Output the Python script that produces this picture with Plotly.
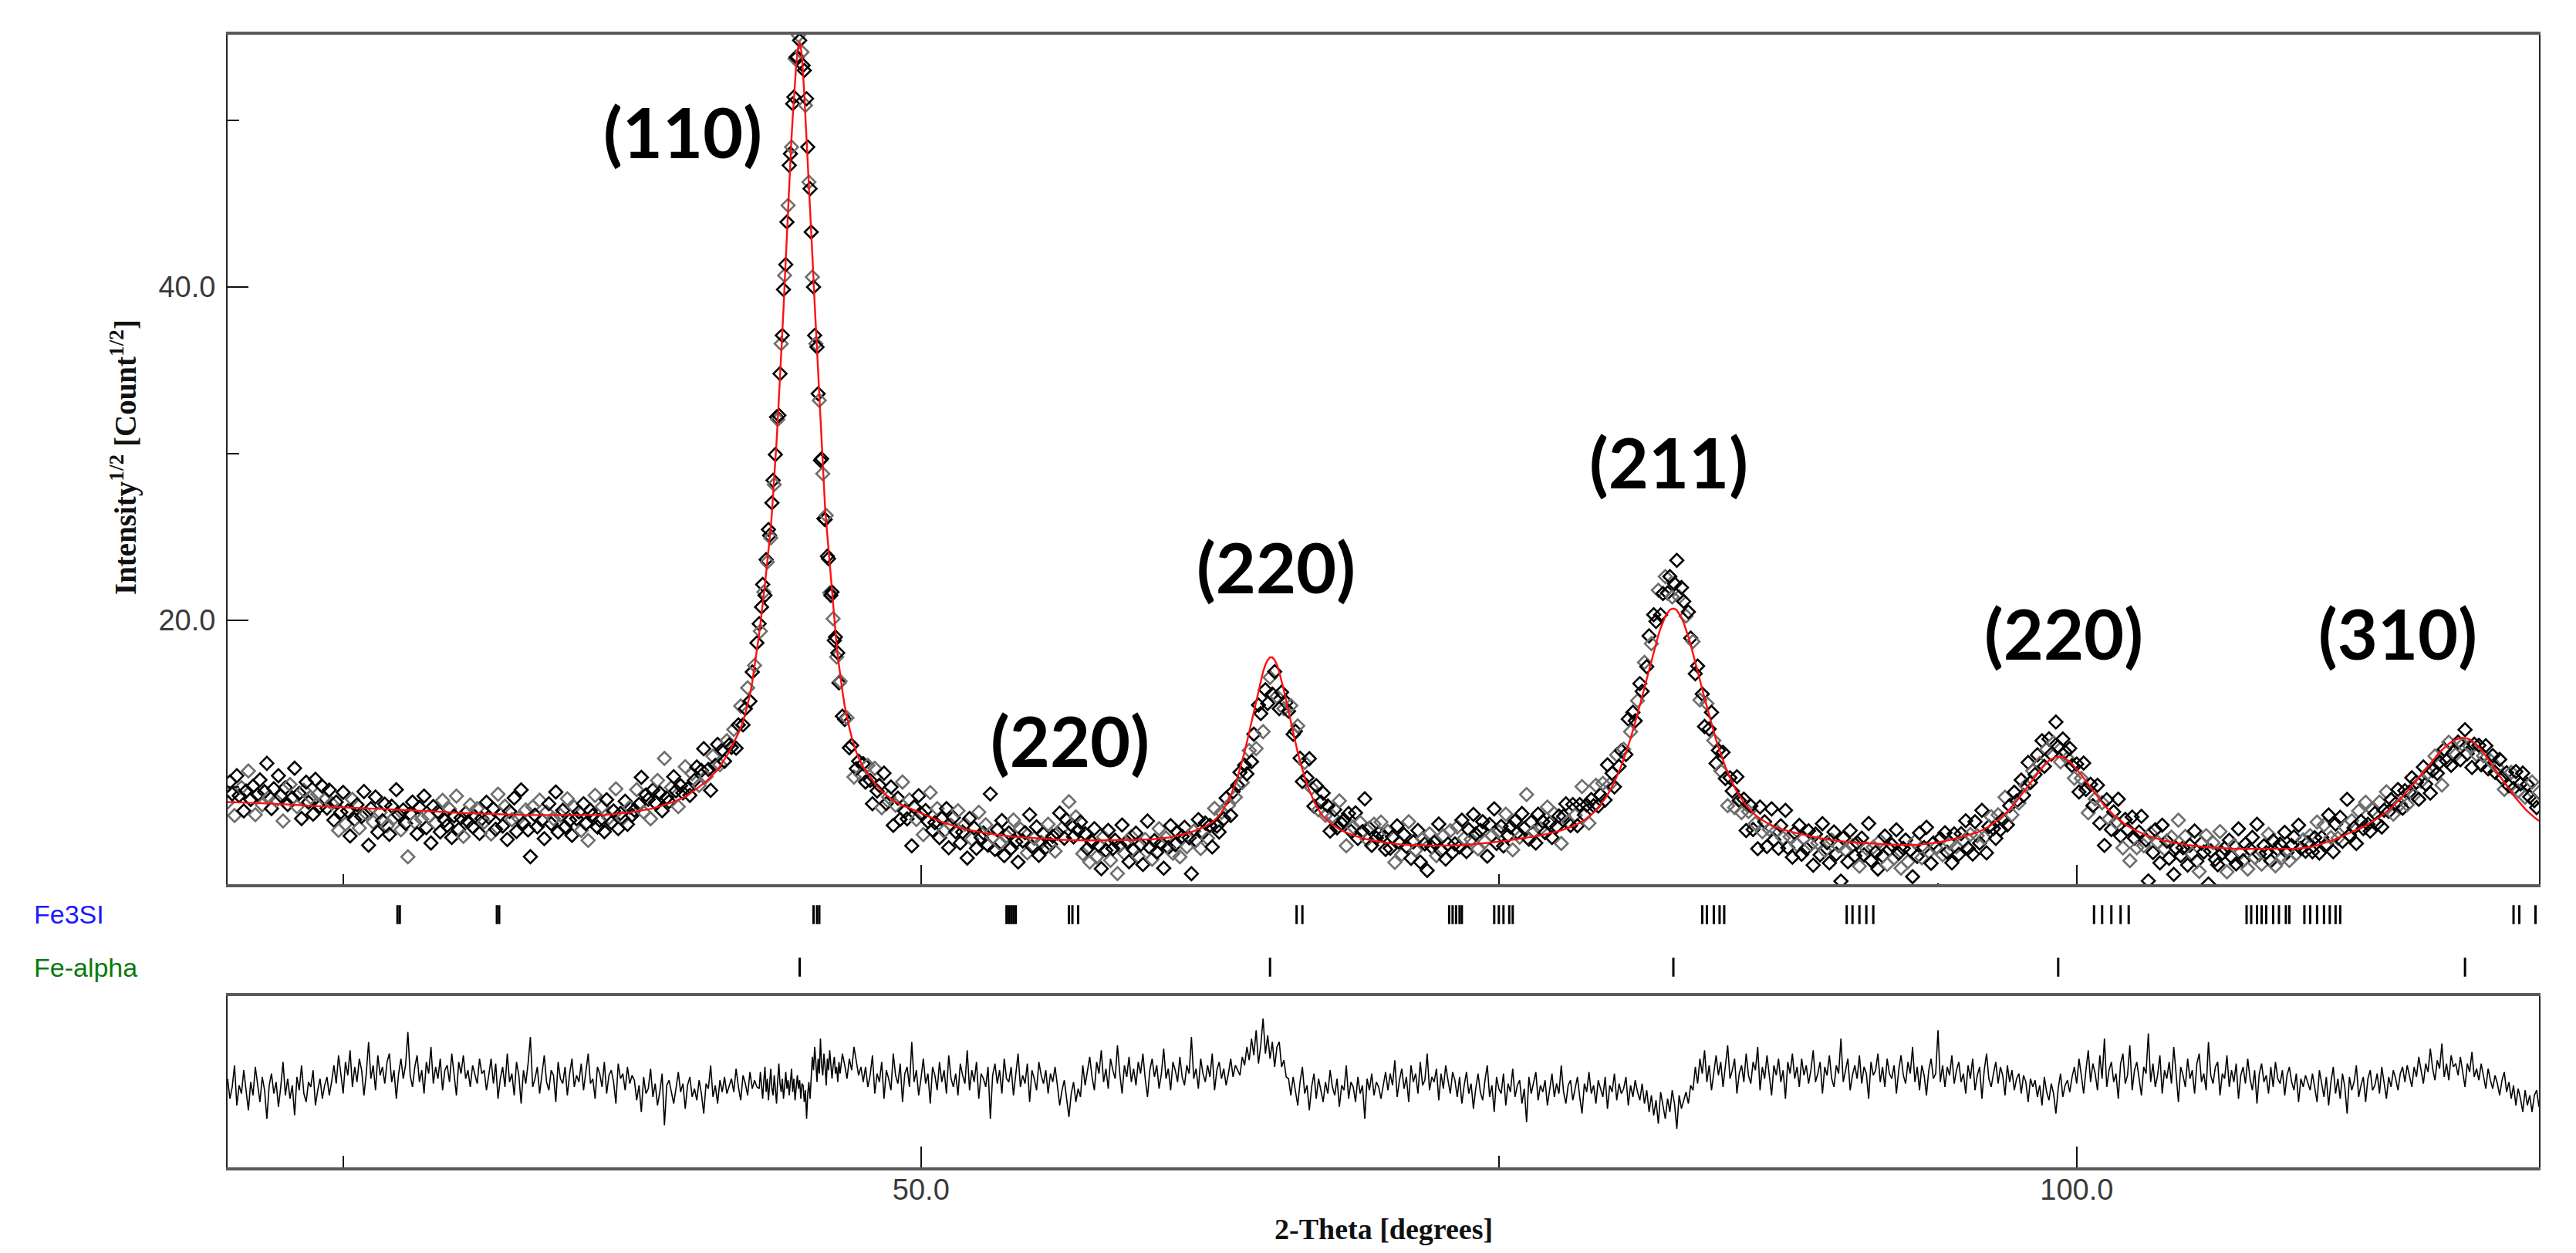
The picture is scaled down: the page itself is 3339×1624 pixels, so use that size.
import numpy as np
import plotly.graph_objects as go

# ---------------- DATA ----------------
# 2-theta sampling grid in degrees: 0.1 deg steps, 0.05 deg steps across the (110) peak
two_theta = np.concatenate([
    np.arange(200, 430) / 10.0,    # 20.0 ... 42.9
    np.arange(860, 930) / 20.0,    # 43.00 ... 46.45
    np.arange(465, 1201) / 10.0,   # 46.5 ... 120.0
])

# calculated profile (red line), Intensity^1/2
calc_low = [
    9.10, 9.10, 9.09, 9.09, 9.08, 9.08, 9.07, 9.07, 9.06, 9.06,
    9.05, 9.05, 9.04, 9.04, 9.03, 9.03, 9.02, 9.02, 9.01, 9.01,
    9.00, 8.99, 8.98, 8.98, 8.97, 8.96, 8.95, 8.95, 8.94, 8.93,
    8.92, 8.92, 8.91, 8.90, 8.89, 8.89, 8.88, 8.87, 8.86, 8.86,
    8.85, 8.84, 8.84, 8.83, 8.82, 8.82, 8.81, 8.80, 8.80, 8.79,
    8.78, 8.78, 8.77, 8.76, 8.76, 8.75, 8.74, 8.74, 8.73, 8.73,
    8.72, 8.71, 8.71, 8.70, 8.70, 8.69, 8.68, 8.68, 8.67, 8.67,
    8.66, 8.65, 8.65, 8.64, 8.64, 8.63, 8.62, 8.62, 8.61, 8.61,
    8.60, 8.59, 8.59, 8.58, 8.57, 8.56, 8.56, 8.55, 8.54, 8.53,
    8.53, 8.52, 8.51, 8.50, 8.50, 8.49, 8.48, 8.47, 8.47, 8.46,
    8.45, 8.45, 8.44, 8.44, 8.43, 8.43, 8.42, 8.42, 8.41, 8.41,
    8.40, 8.40, 8.39, 8.39, 8.38, 8.38, 8.37, 8.37, 8.36, 8.36,
    8.35, 8.35, 8.34, 8.34, 8.34, 8.33, 8.33, 8.33, 8.32, 8.32,
    8.32, 8.32, 8.31, 8.31, 8.31, 8.31, 8.30, 8.30, 8.30, 8.30,
    8.30, 8.30, 8.30, 8.30, 8.30, 8.30, 8.30, 8.30, 8.30, 8.30,
    8.30, 8.30, 8.30, 8.30, 8.30, 8.30, 8.30, 8.30, 8.30, 8.30,
    8.30, 8.30, 8.31, 8.32, 8.34, 8.35, 8.36, 8.37, 8.39, 8.40,
    8.42, 8.43, 8.45, 8.46, 8.48, 8.50, 8.52, 8.54, 8.56, 8.58,
    8.60, 8.63, 8.66, 8.69, 8.72, 8.76, 8.80, 8.84, 8.88, 8.92,
    8.97, 9.02, 9.07, 9.12, 9.17, 9.22, 9.28, 9.35, 9.42, 9.50,
    9.60, 9.70, 9.80, 9.90, 10.00, 10.10, 10.20, 10.33, 10.46, 10.60,
    10.75, 10.90, 11.06, 11.24, 11.44, 11.65, 11.88, 12.12, 12.38, 12.65,
    12.93, 13.23, 13.56, 13.93, 14.40, 14.95, 15.55, 16.30, 17.20, 18.15,
]
calc_110 = [
    19.20, 19.75, 20.30, 20.95, 21.60, 22.20, 22.85, 23.50, 24.15, 24.80,
    25.55, 26.45, 27.40, 28.35, 29.45, 30.70, 31.95, 33.20, 34.50, 35.80,
    37.10, 38.65, 40.20, 41.75, 43.30, 44.80, 46.30, 47.70, 49.00, 50.20,
    51.40, 52.40, 53.30, 54.00, 54.50, 54.70, 54.40, 53.80, 52.90, 51.60,
    50.20, 48.90, 47.50, 46.10, 44.70, 43.30, 41.90, 40.50, 39.00, 37.60,
    36.20, 34.80, 33.50, 32.00, 30.50, 29.00, 27.60, 26.75, 25.90, 25.05,
    24.20, 23.35, 22.50, 21.70, 20.90, 20.10, 19.30, 18.50, 17.85, 17.25,
]
calc_high = [
    16.65, 15.75, 14.85, 14.15, 13.55,
    13.00, 12.50, 12.10, 11.75, 11.45, 11.20, 11.00, 10.80, 10.60, 10.40,
    10.22, 10.06, 9.90, 9.76, 9.63, 9.51, 9.40, 9.30, 9.20, 9.11,
    9.03, 8.96, 8.90, 8.84, 8.79, 8.73, 8.67, 8.61, 8.55, 8.48,
    8.41, 8.35, 8.29, 8.23, 8.17, 8.11, 8.06, 8.01, 7.96, 7.91,
    7.86, 7.81, 7.76, 7.71, 7.66, 7.62, 7.58, 7.54, 7.50, 7.47,
    7.44, 7.41, 7.38, 7.35, 7.32, 7.29, 7.27, 7.25, 7.23, 7.21,
    7.19, 7.17, 7.15, 7.13, 7.11, 7.09, 7.08, 7.06, 7.05, 7.03,
    7.02, 7.01, 7.00, 6.98, 6.97, 6.96, 6.95, 6.94, 6.93, 6.92,
    6.91, 6.90, 6.89, 6.88, 6.88, 6.87, 6.86, 6.85, 6.85, 6.84,
    6.84, 6.83, 6.83, 6.82, 6.82, 6.82, 6.81, 6.81, 6.81, 6.80,
    6.80, 6.80, 6.80, 6.80, 6.80, 6.80, 6.80, 6.80, 6.80, 6.80,
    6.80, 6.80, 6.80, 6.81, 6.81, 6.81, 6.81, 6.82, 6.82, 6.82,
    6.82, 6.83, 6.83, 6.83, 6.84, 6.84, 6.85, 6.85, 6.86, 6.86,
    6.87, 6.88, 6.89, 6.90, 6.92, 6.93, 6.95, 6.97, 6.99, 7.02,
    7.05, 7.08, 7.11, 7.14, 7.18, 7.22, 7.26, 7.30, 7.35, 7.40,
    7.45, 7.51, 7.57, 7.64, 7.72, 7.80, 7.90, 8.02, 8.15, 8.30,
    8.48, 8.70, 8.93, 9.19, 9.49, 9.82, 10.19, 10.60, 11.08, 11.57,
    12.11, 12.69, 13.29, 13.92, 14.57, 15.21, 15.82, 16.41, 16.92, 17.34,
    17.62, 17.78, 17.78, 17.62, 17.33, 16.90, 16.39, 15.80, 15.18, 14.55,
    13.89, 13.26, 12.65, 12.07, 11.53, 11.03, 10.57, 10.16, 9.80, 9.45,
    9.15, 8.88, 8.63, 8.40, 8.24, 8.10, 7.97, 7.85, 7.74, 7.64,
    7.55, 7.47, 7.40, 7.33, 7.27, 7.21, 7.15, 7.10, 7.05, 7.01,
    6.97, 6.93, 6.89, 6.86, 6.83, 6.80, 6.77, 6.74, 6.72, 6.70,
    6.68, 6.66, 6.64, 6.62, 6.60, 6.58, 6.57, 6.56, 6.55, 6.54,
    6.53, 6.52, 6.52, 6.51, 6.51, 6.50, 6.50, 6.50, 6.49, 6.49,
    6.49, 6.49, 6.48, 6.48, 6.48, 6.48, 6.48, 6.48, 6.48, 6.48,
    6.49, 6.49, 6.50, 6.50, 6.51, 6.52, 6.53, 6.54, 6.55, 6.56,
    6.58, 6.59, 6.60, 6.62, 6.63, 6.65, 6.66, 6.68, 6.69, 6.71,
    6.72, 6.74, 6.76, 6.77, 6.79, 6.81, 6.83, 6.85, 6.87, 6.89,
    6.91, 6.93, 6.95, 6.97, 6.99, 7.02, 7.04, 7.07, 7.10, 7.13,
    7.16, 7.20, 7.24, 7.27, 7.30, 7.33, 7.36, 7.41, 7.45, 7.49,
    7.53, 7.59, 7.65, 7.70, 7.78, 7.85, 7.93, 8.03, 8.12, 8.23,
    8.35, 8.48, 8.60, 8.76, 8.93, 9.12, 9.32, 9.53, 9.76, 10.03,
    10.31, 10.63, 10.94, 11.28, 11.67, 12.05, 12.48, 12.92, 13.38, 13.87,
    14.38, 14.91, 15.44, 15.98, 16.52, 17.07, 17.60, 18.14, 18.64, 19.11,
    19.53, 19.91, 20.23, 20.45, 20.63, 20.70, 20.70, 20.60, 20.41, 20.17,
    19.84, 19.46, 19.01, 18.54, 18.03, 17.50, 16.96, 16.42, 15.88, 15.33,
    14.81, 14.28, 13.78, 13.29, 12.82, 12.40, 11.97, 11.58, 11.21, 10.88,
    10.56, 10.26, 9.97, 9.72, 9.49, 9.27, 9.07, 8.89, 8.73, 8.57,
    8.45, 8.32, 8.20, 8.10, 8.02, 7.92, 7.83, 7.76, 7.69, 7.63,
    7.58, 7.52, 7.48, 7.44, 7.40, 7.36, 7.32, 7.29, 7.26, 7.23,
    7.20, 7.16, 7.13, 7.10, 7.07, 7.04, 7.01, 6.98, 6.95, 6.93,
    6.90, 6.88, 6.86, 6.84, 6.82, 6.80, 6.78, 6.76, 6.75, 6.73,
    6.72, 6.71, 6.69, 6.68, 6.67, 6.66, 6.65, 6.64, 6.63, 6.62,
    6.61, 6.60, 6.59, 6.58, 6.58, 6.57, 6.56, 6.56, 6.55, 6.55,
    6.54, 6.54, 6.53, 6.53, 6.53, 6.52, 6.52, 6.52, 6.52, 6.52,
    6.53, 6.54, 6.55, 6.56, 6.57, 6.58, 6.60, 6.62, 6.64, 6.66,
    6.68, 6.71, 6.73, 6.76, 6.79, 6.82, 6.85, 6.89, 6.92, 6.96,
    7.00, 7.04, 7.08, 7.12, 7.15, 7.18, 7.22, 7.28, 7.34, 7.40,
    7.47, 7.55, 7.63, 7.72, 7.81, 7.92, 8.03, 8.14, 8.26, 8.39,
    8.53, 8.68, 8.83, 8.99, 9.16, 9.34, 9.52, 9.70, 9.88, 10.07,
    10.27, 10.47, 10.65, 10.83, 11.01, 11.18, 11.34, 11.46, 11.59, 11.67,
    11.75, 11.80, 11.82, 11.81, 11.78, 11.71, 11.62, 11.52, 11.39, 11.23,
    11.08, 10.90, 10.72, 10.54, 10.35, 10.15, 9.96, 9.78, 9.59, 9.41,
    9.23, 9.06, 8.90, 8.74, 8.59, 8.45, 8.31, 8.19, 8.07, 7.96,
    7.85, 7.76, 7.66, 7.58, 7.50, 7.43, 7.36, 7.30, 7.24, 7.18,
    7.12, 7.07, 7.02, 6.97, 6.93, 6.89, 6.85, 6.81, 6.78, 6.75,
    6.72, 6.69, 6.66, 6.63, 6.61, 6.58, 6.56, 6.54, 6.52, 6.50,
    6.48, 6.46, 6.45, 6.43, 6.42, 6.40, 6.39, 6.38, 6.37, 6.36,
    6.35, 6.34, 6.33, 6.32, 6.32, 6.31, 6.31, 6.30, 6.30, 6.29,
    6.29, 6.29, 6.28, 6.28, 6.28, 6.28, 6.28, 6.28, 6.27, 6.27,
    6.27, 6.27, 6.27, 6.27, 6.27, 6.27, 6.27, 6.27, 6.27, 6.27,
    6.28, 6.28, 6.29, 6.29, 6.30, 6.30, 6.31, 6.32, 6.33, 6.35,
    6.37, 6.39, 6.42, 6.46, 6.50, 6.54, 6.58, 6.62, 6.67, 6.72,
    6.77, 6.82, 6.88, 6.93, 6.98, 7.04, 7.10, 7.16, 7.22, 7.28,
    7.35, 7.41, 7.47, 7.54, 7.61, 7.69, 7.77, 7.85, 7.93, 8.02,
    8.11, 8.20, 8.30, 8.40, 8.51, 8.63, 8.75, 8.87, 9.01, 9.15,
    9.28, 9.43, 9.58, 9.74, 9.90, 10.06, 10.22, 10.39, 10.56, 10.74,
    10.90, 11.08, 11.25, 11.43, 11.59, 11.76, 11.92, 12.08, 12.22, 12.36,
    12.48, 12.59, 12.70, 12.78, 12.85, 12.90, 12.94, 12.95, 12.94, 12.91,
    12.85, 12.77, 12.67, 12.54, 12.40, 12.24, 12.07, 11.88, 11.69, 11.49,
    11.29, 11.08, 10.87, 10.66, 10.46, 10.26, 10.06, 9.87, 9.68, 9.51,
    9.33, 9.16, 8.99, 8.84, 8.69, 8.55, 8.41, 8.30, 8.18, 8.07,
    7.96,
]

# difference curve as drawn in the lower panel (calculated - observed)
resid_low = [
    0.0, -1.2, -0.5, 0.8, -1.6, -0.4, -0.9, 0.5, -0.7, -1.9,
    -0.2, -1.0, 0.7, -0.5, -1.4, 0.1, -0.7, -2.4, -0.4, 0.3,
    -0.9, -0.2, -1.7, -0.5, 1.0, -1.0, 0.0, -1.2, -0.4, -2.2,
    0.1, -0.7, 0.8, -0.9, -1.4, -0.2, -0.5, 0.5, -1.6, -0.7,
    0.0, -1.2, -0.4, 0.1, -1.0, -0.2,
    0.8, -0.3, 1.4, 0.3, -0.9, 1.0, 0.2, 1.7, -0.5, 0.7,
    -0.2, 1.2, 0.5, -1.0, 0.3, 2.2, 0.0, 0.8, -0.7, 1.4,
    0.2, 0.7, -0.3, 1.0, 1.5, -0.2, 0.5, -1.2, 0.3, 1.2,
    0.0, 0.8, 2.8, 0.2, -0.5, 0.7, 1.4, -0.2, 0.5, -0.9,
    1.0, 0.3, 1.9, -0.3, 0.7, 0.0, 1.2, -0.7, 0.5, 0.8,
    -0.2, 1.5, 0.2, -1.0, 1.0, 0.3, 1.4, 0.0, 0.5, -0.5,
    0.8, 0.2, -0.3, 1.2, 0.3,
    0.5, -0.7, 0.2, 1.2, -0.3, 0.9, -1.2, 0.0, 0.7, -0.5,
    1.5, -0.2, 0.3, -1.0, 1.0, 0.2, -1.5, 0.5, -0.3, 0.9,
    2.5, -0.5, 0.0, 0.7, -0.9, 0.3, 1.4, -0.2, -0.7, 0.5,
    0.2, -1.4, 1.0, 0.0, -0.3, 0.7, -1.0, 0.3, 1.2, -0.5,
    0.2, -0.2, 0.9, -0.7, 0.5, 1.5, -0.3, 0.0, -1.2, 0.7,
    0.3, -0.5, 1.0, -0.9, 0.2, 0.5, -0.2, -1.5, 0.9, 0.0,
    0.3, -0.7, 0.7, -0.3, 0.2,
    -0.1, -1.3, -0.4, -2.0, 0.1, -0.9, -0.6, 0.6, -1.1, -0.3,
    -1.6, -0.8, 0.3, -2.8, -0.4, -0.1, -0.9, -1.5, -0.6, 0.4,
    -0.8, -0.3, -1.8, -0.4, 0.1, -1.1, -0.6, -1.3, -0.1, -0.9,
    -2.1, -0.3, -0.6, 0.8, -1.1, -0.4, -1.5, -0.1, -0.8, 0.1,
    -0.9, -0.4,
    0.0, -0.8, 0.6, -0.5, -1.3, 0.2, -0.3, -1.0, 0.4, -0.6, -0.1, -0.5,
]
resid_110 = [
    -0.6, 0.4, -0.5, -1.2, -0.1, 0.7, -0.8, 0.0, -1.3, -0.3,
    0.6, -0.6, -1.0, 0.2, -0.5, -1.5, -0.1, 0.9, -0.3, -0.8,
    0.0, -1.2, -0.5, 0.4, -0.6, -0.1, -1.0, -0.3, 0.6, -0.8,
    0.0, -1.3, -0.5, 0.2, -0.6, -0.1, -1.2, -0.3,
    -0.4, -1.4, -0.7, -2.4, -0.9, -0.2, -1.2,
    0.0, 1.3, 0.5, 1.9, 1.0, -0.2, 1.2, 0.3, 2.4, 0.8,
    0.2, 1.5, 0.7, -0.4, 1.2, 0.5, 1.7, 1.0, 0.0, 0.8,
    1.3, 0.3, 0.7, -0.2, 1.0,
]
resid_high = [
    0.3, 1.5, 0.8, 0.0, 1.2, 0.5, 1.9, 1.0, 0.2, 0.7, -0.2,
    0.7, -0.5, 0.2, 1.4, -0.9, 0.3, -0.2, 1.0, -1.2, 0.5,
    0.0, -0.7, 1.5, 0.2, -0.3, 0.9, -1.4, 0.3, 0.7, -0.5,
    2.2, -0.2, 0.5, -1.0, 0.0, 1.2, -0.3, 0.3, -1.5, 0.7,
    0.2, -0.7, 1.0, -0.2, 0.5, -0.9, 1.4, 0.0, -0.5, 0.3,
    -1.0, 0.9, 0.2, -0.3, 1.7, -0.7, 0.5, -0.2, 1.0, -1.2,
    0.3, 0.0, -0.5, 0.7, -2.4, 0.2, 0.9, -0.3, 0.5, -0.9,
    1.2, 0.0, -0.2, 0.7, -1.0, 0.3, 1.5, -0.5, 0.2, -0.3,
    0.9, -1.4, 0.5, 0.0, -0.7, 1.0, 0.2, -0.3, 0.5, -0.9,
    0.3, -0.2, 0.7,
    -0.4, -1.6, -0.7, -0.1, -1.2, -2.3, -0.9, -0.2, -1.4, -0.6, -1.1,
    0.8, -0.4, 0.5, 1.3, 0.1, -0.7, 1.0, 0.3, 1.7, -0.2,
    0.6, -0.6, 1.2, 0.5, 0.0, 2.0, 0.3, -0.9, 0.8, 0.1,
    1.3, -0.2, 0.6, -0.4, 1.0, 0.3, 1.5, 0.0, -1.1, 0.5,
    1.2, 0.1, 0.8, -0.6, 0.3, 1.8, 0.0, 0.6, -0.7, 1.0,
    0.5, -0.2, 1.3, 0.1, -0.4, 0.8, 0.3, 2.5, 0.0, 0.6,
    -0.6, 1.2, 0.3, -0.2, 0.8, 0.1, 1.5, -0.7, 0.5, 1.0,
    0.0, 0.6, -0.4, 0.3, 1.2, 0.1, 0.8, 0.5,
    0.2, 1.3, 0.8, 1.9, 1.1, 2.4, 1.4, 2.9, 0.9, 2.0,
    3.6, 1.5, 2.6, 1.2, 2.2, 0.7, 1.9, 2.2, 0.7, 1.1, 0.1,
    0.0, -1.0, 0.1, -0.7, -1.6, -0.2, 0.7, -0.9, -0.4, -1.9,
    -0.5, 0.3, -1.2, 0.0, -0.7, -1.4, -0.2, -0.9, 0.5, -0.5,
    -1.0, 0.0, -1.7, -0.4, -0.7, 0.8, -1.2, -0.2, -0.5, -1.4,
    0.1, -0.9, -0.4, -2.4, 0.0, -0.7, 0.3, -1.0, -0.2, -0.5,
    -1.2, -0.4,
    0.4, -0.7, 0.3, -0.4, 1.1, -1.1, -0.1, 0.6, -0.6, 0.1,
    -1.4, 0.8, -0.2, 0.3, -0.9, 1.0, -0.4, -0.1, 1.5, -0.7,
    0.1, -0.2, 0.6, -1.3, 0.3, -0.6, 0.8, -0.1, -0.9, 0.4,
    -0.1, -1.1, 0.1, -1.5, -0.4, 0.4, -0.9, -0.3, -1.8, -0.6,
    0.3, -0.8, -1.3, -0.1, 0.8, -1.1, -0.4, -2.0, 0.1, -0.6,
    -0.9, 0.3, -1.6, -0.3, -0.8, 0.6, -1.1, -0.4, -0.1, -1.5,
    -0.6, -2.6, 0.1, -0.9, -0.3, 0.4, -1.3, -0.4, -0.8, -0.1,
    -1.6, -0.6, 0.3, -1.1, -0.3, -0.9, 0.8, -0.8, -1.5, -0.4,
    -0.1, -1.3, -0.6, 0.1, -1.1, -2.1, -0.3, -0.8, 0.4, -0.9,
    -0.4, -1.5, -0.1, -0.6, -1.1, 0.1, -1.8, -0.4, -0.8, 0.3,
    -1.3, -0.3, -0.9, -0.6, 0.1, -1.6, -0.4, -1.1, -0.1, -0.8,
    -1.3,
    -0.3, -1.5, -0.7, -2.0, -1.0, -2.2, -1.3, -2.7, -0.8, -1.7,
    -2.4, -1.2, -2.0, -0.7, -1.5, -3.0, -1.0, -1.8, -1.3, -0.8,
    -1.5, -0.4, -0.7,
    0.7, -0.3, 1.2, 0.3, 1.7, -0.2, 0.8, -0.7, 0.5, 1.4,
    0.2, 1.0, -0.5, 0.7, 2.0, 0.0, 0.5, 1.2, -0.9, 0.3,
    0.8, -0.2, 1.5, 0.2, -0.3, 1.0, 0.5, 1.9, -0.7, 0.7,
    0.0, 1.4, 0.3, -1.0, 0.8, 0.2, 1.2, -0.2, 0.5, -1.2,
    1.0, 0.3, 1.5, 0.0, 0.7, -0.5, 1.2, 0.2, 0.8, -0.3,
    0.5, 1.7, -0.2, 0.3, 1.0, -0.9, 0.7, 0.2, 1.4, 0.0,
    -0.5, 0.8, 0.3, 2.4, -0.2, 0.5, 1.2, -0.7, 0.2, 0.8,
    0.0, 1.4, -0.3, 0.7, 0.3, -1.2, 1.0, 0.2, 0.5, 1.5,
    -0.2, 0.7, -0.5, 1.2, 0.3, 0.0, 0.8, -0.9, 0.5, 1.4,
    0.2, -0.3, 1.0, 0.3, 1.9, -0.2, 0.7, -0.7, 0.8, 0.2,
    -1.0, 0.5, 1.2, 0.0, 0.3, 2.9, -0.2, 0.8, -0.5, 0.7,
    0.2, 1.4, -0.3, 0.5, 1.0, -0.2, 0.3, -0.9, 0.8, 0.0,
    1.2, -0.7, 0.2, 0.7, -1.2, 0.5, 1.5, 0.0, -0.5, 0.3,
    1.0, -0.3, 0.7, 0.2, -1.0, 0.8, -0.2, 0.5, -0.7, 0.0,
    0.3, -0.9, 0.2, -0.2, -1.4, 0.0, -0.5,
    -0.1, -1.1, -0.4, -1.6, 0.1, -0.8, -1.3, -0.3, -0.9, -2.1,
    -0.6, 0.3, -1.1, -0.4, -0.1, -0.8, 0.1,
    0.7, -0.3, 1.2, 0.2, -0.9, 0.5, 1.7, -0.2, 0.9, 0.3,
    -0.7, 1.4, 0.0, 2.4, -0.5, 0.5, 1.0, -0.2, 0.3, -1.2,
    0.9, 1.5, -0.3, 0.2, 2.0, -0.7, 0.5, 1.0, 0.0, -1.0,
    0.7, 0.3, 2.7, -0.2, 0.9, -0.5, 0.2, 1.4, -0.9, 0.5,
    0.0, 1.0, -0.3, 1.9, 0.3, -1.4, 0.7, 0.2, -0.5, 1.2,
    0.0, 0.5, -0.9, 0.9, 1.5, -0.2, 0.3, -0.7, 2.2, 0.2,
    -0.3, 0.7, 1.0, -1.0, 0.3, 0.0, 1.4, -0.5, 0.5, -0.2,
    0.9, -1.2, 0.2, 0.7, -0.3, 1.2, 0.0, -0.7, 0.5, -1.5,
    0.3, 0.9, -0.2, 0.2, -0.9, 0.7, -0.5, 1.0, 0.0, -0.3,
    0.5, -1.0, 0.2, 0.7, -0.2, -0.7, 0.3, -1.4, 0.0, -0.5,
    0.2, -0.3,
    -0.7, 0.3, -0.5, -1.4, 0.5, -0.4, -1.1, 0.1, -1.6, -0.2,
    0.7, -0.9, 0.0, -1.2, 0.3, -0.5, -2.1, 0.1, -0.7, -0.2,
    0.8, -1.1, -0.4, 0.1, -1.4, 0.0, 0.5, -0.7, -0.4, 0.3,
    -0.9, 0.7, -0.2, -1.2, 0.1, -0.5, 0.5, 0.0, -0.7, 0.3,
    0.7, -0.2, 0.8,
    0.2, -0.5, 0.7, 0.1, 1.3, 0.4, -0.3, 0.9, 0.4, 1.8,
    0.6, -0.1, 1.1, 0.6, 2.1, 0.1, 0.9, -0.1, 1.4, 0.7,
    0.9, 0.2, 1.3, 0.4, -0.5, 0.9, 0.4, 1.6, 0.1, 0.6,
    -0.1, 0.9, 0.2, -0.6, 0.6, -0.1, -0.6, 0.2, -0.3, -1.0,
    -0.1, 0.4, -0.8, -0.2, -1.2, -0.4, -1.6, -0.6, -1.2, -2.0,
    -0.7, -1.6, -1.0, -2.0, -1.0, -0.7, -1.7,
]

# reflection positions (2-theta, deg) of the two phases
fe3si_positions = [
    27.35, 27.45, 31.65, 31.75, 45.35, 45.5, 45.6,
    53.7, 53.8, 53.9, 54.0, 54.1, 56.4, 56.55, 56.8, 66.25, 66.5,
    72.85, 73.0, 73.15, 73.3, 73.4, 74.8, 75.0, 75.2, 75.45, 75.6,
    83.8, 84.0, 84.3, 84.55, 84.75, 90.05, 90.3, 90.6, 90.9, 91.2,
    100.75, 101.1, 101.5, 101.9, 102.25,
    107.35, 107.55, 107.8, 108.0, 108.2, 108.5, 108.75, 109.05, 109.2,
    109.85, 110.1, 110.4, 110.7, 110.95, 111.2, 111.4,
    118.9, 119.15, 119.85,
]
fe_alpha_positions = [44.75, 65.1, 82.55, 99.2, 116.8]
phase_names = ["Fe3SI", "Fe-alpha"]
phase_colors = ["#1a1aff", "#0a7a0a"]

# peak labels: text, 2-theta, intensity^1/2 (label centre)
peak_labels = [
    ("(110)", 39.70, 49.35),
    ("(220)", 56.45, 12.82),
    ("(220)", 65.35, 23.24),
    ("(211)", 82.35, 29.54),
    ("(220)", 99.45, 19.26),
    ("(310)", 113.90, 19.26),
]

# ---------------- BUILD ----------------
calc = np.array(calc_low + calc_110 + calc_high)
residual = np.array(resid_low + resid_110 + resid_high)
assert len(calc) == len(two_theta), (len(calc), len(two_theta))
assert len(residual) == len(two_theta), (len(residual), len(two_theta))
observed = calc - residual

W, H = 3339, 1624
ML, MR, MT, MB = 287, 56, 37, 119
plot_h = H - MT - MB

def frac(py):  # pixel row -> paper fraction
    return 1 - (py - MT) / plot_h

main_dom = [frac(1138), 1.0]
tick_dom = [frac(1283), frac(1138)]
res_dom = [0.0, frac(1283)]

# alternate dark / grey outlines like the anti-aliased symbols of the original
marker_colors = ["#000000" if i % 3 else "#6e6e6e" for i in range(len(two_theta))]

fig = go.Figure()

fig.add_trace(go.Scatter(
    x=two_theta, y=observed, mode="markers", xaxis="x", yaxis="y",
    marker=dict(symbol="diamond-open", size=13, color=marker_colors,
                line=dict(width=2.6, color=marker_colors)),
    showlegend=False, hoverinfo="skip"))
fig.add_trace(go.Scatter(
    x=two_theta, y=calc, mode="lines", xaxis="x", yaxis="y",
    line=dict(color="#ff1010", width=2.4), showlegend=False, hoverinfo="skip"))

for row, positions in enumerate([fe3si_positions, fe_alpha_positions]):
    xs, ys = [], []
    for p in positions:
        xs += [p, p, None]
        ys += [row - 0.18, row + 0.18, None]
    fig.add_trace(go.Scatter(
        x=xs, y=ys, mode="lines", xaxis="x2", yaxis="y2",
        line=dict(color="#000000", width=3), showlegend=False, hoverinfo="skip"))

fig.add_trace(go.Scatter(
    x=two_theta, y=residual, mode="lines", xaxis="x3", yaxis="y3",
    line=dict(color="#000000", width=1.6), showlegend=False, hoverinfo="skip"))

tick_font = dict(family="Liberation Sans", size=38, color="#3a3a3a")
frame_h = dict(showline=True, linewidth=4, linecolor="#5a5a5a", mirror=True)
frame_v = dict(showline=True, linewidth=2, linecolor="#222222", mirror=True)

fig.update_layout(
    width=W, height=H,
    margin=dict(l=ML, r=MR, t=MT, b=MB),
    paper_bgcolor="white", plot_bgcolor="white",
    xaxis=dict(domain=[0, 1], anchor="y", range=[20, 120], showgrid=False, zeroline=False,
               showticklabels=False, ticks="inside", tick0=0, dtick=50, ticklen=25,
               tickwidth=2, tickcolor="#111",
               minor=dict(ticks="inside", tick0=0, dtick=25, ticklen=13, tickwidth=2,
                          tickcolor="#111", showgrid=False),
               **frame_h),
    yaxis=dict(domain=main_dom, anchor="x", range=[4.17, 55.14], showgrid=False, zeroline=False,
               ticks="inside", tick0=0, dtick=20, ticklen=27, tickwidth=2, tickcolor="#111",
               tickformat=".1f", tickfont=tick_font, ticklabelstandoff=6,
               minor=dict(ticks="inside", tick0=0, dtick=10, ticklen=15, tickwidth=2,
                          tickcolor="#111", showgrid=False),
               **frame_v),
    xaxis2=dict(domain=[0, 1], anchor="y2", range=[20, 120], visible=False),
    yaxis2=dict(domain=tick_dom, anchor="x2", range=[1.55, -0.58], visible=False),
    xaxis3=dict(domain=[0, 1], anchor="y3", range=[20, 120], showgrid=False, zeroline=False,
                ticks="inside", tick0=0, dtick=50, ticklen=27, tickwidth=2, tickcolor="#111",
                tickformat=".1f", tickfont=tick_font, ticklabelstandoff=-8,
                minor=dict(ticks="inside", tick0=0, dtick=25, ticklen=15, tickwidth=2,
                           tickcolor="#111", showgrid=False),
                **frame_h),
    yaxis3=dict(domain=res_dom, anchor="x3", range=[-5.32, 4.95], showgrid=False,
                zeroline=False, showticklabels=False, ticks="", **frame_v),
)

annotations = []
for text, x, y in peak_labels:
    annotations.append(dict(text="<b>%s</b>" % text, x=x, y=y, xref="x", yref="y",
                            showarrow=False, xanchor="center", yanchor="middle",
                            font=dict(family="Lato", size=90, color="#000000")))
for row, (name, col) in enumerate(zip(phase_names, phase_colors)):
    annotations.append(dict(text=name, x=(34 - ML) / (W - ML - MR), y=row,
                            xref="paper", yref="y2", showarrow=False,
                            xanchor="left", yanchor="middle",
                            font=dict(family="Liberation Sans", size=34, color=col)))
annotations.append(dict(text="<b>Intensity<sup>1/2</sup> [Count<sup>1/2</sup>]</b>",
                        x=(152 - ML) / (W - ML - MR), y=frac(585), xref="paper", yref="paper",
                        textangle=-90, showarrow=False, xanchor="center", yanchor="middle",
                        font=dict(family="Liberation Serif", size=39, color="#111")))
annotations.append(dict(text="<b>2-Theta [degrees]</b>",
                        x=0.5, y=frac(1585), xref="paper", yref="paper",
                        showarrow=False, xanchor="center", yanchor="middle",
                        font=dict(family="Liberation Serif", size=38, color="#111")))
fig.update_layout(annotations=annotations)

fig.write_html("out.html")
